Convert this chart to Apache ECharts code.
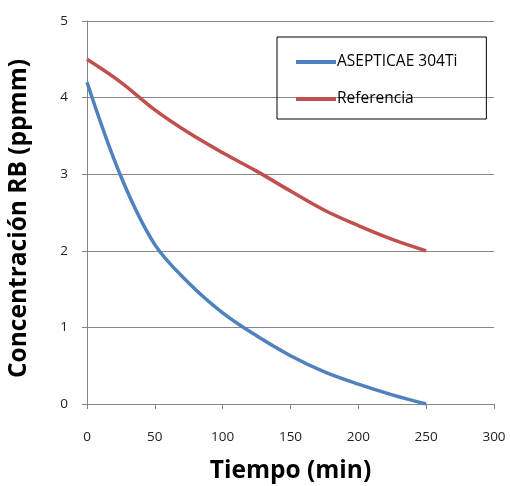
<!DOCTYPE html>
<html><head><meta charset="utf-8">
<script src="https://cdn.jsdelivr.net/npm/echarts@6/dist/echarts.min.js"></script>
<style>html,body{margin:0;padding:0;background:#fff}#c{width:510px;height:486px}</style>
</head><body><div id="c"></div>
<script>
const tiempo = [0, 25, 50, 75, 100, 125, 150, 175, 200, 225, 250];
const aseptica = [4.2, 2.97, 2.08, 1.58, 1.19, 0.89, 0.63, 0.42, 0.26, 0.12, 0];
const referencia = [4.5, 4.2, 3.84, 3.54, 3.28, 3.04, 2.78, 2.53, 2.33, 2.15, 2.0];
const seriesNames = ['ASEPTICAE 304Ti', 'Referencia'];
const xTitle = 'Tiempo (min)';
const yTitle = 'Concentración RB (ppmm)';

const pair = (xs, ys) => xs.map((x, i) => [x, ys[i]]);
const font = '"Open Sans", "DejaVu Sans", sans-serif';
const chart = echarts.init(document.getElementById('c'), null, {renderer: 'canvas'});
chart.setOption({
  animation: false,
  backgroundColor: '#fff',
  grid: {left: 87, right: 16, top: 21, bottom: 82, containLabel: false, outerBoundsMode: 'none'},
  legend: {
    orient: 'vertical', left: 277, top: 37,
    padding: [16, 29, 11, 19], itemGap: 19,
    borderColor: '#000', borderWidth: 1,
    itemWidth: 40, itemHeight: 4, icon: 'rect',
    textStyle: {fontFamily: font, fontSize: 15.5, lineHeight: 18, color: '#000', padding: [0, 0, 0, -4]},
    data: seriesNames
  },
  xAxis: {
    type: 'value', min: 0, max: 300, interval: 50,
    name: xTitle, nameLocation: 'middle', nameGap: 55,
    nameTextStyle: {fontFamily: font, fontSize: 24.5, fontWeight: 'bold', color: '#000'},
    axisLine: {show: true, lineStyle: {color: '#868686', width: 1}},
    axisTick: {show: true, length: 5, lineStyle: {color: '#868686'}},
    axisLabel: {fontFamily: font, fontSize: 13.5, color: '#222', margin: 26},
    splitLine: {show: false}
  },
  yAxis: {
    type: 'value', min: 0, max: 5, interval: 1,
    name: yTitle, nameLocation: 'middle', nameGap: 55, nameRotate: 90,
    nameTextStyle: {fontFamily: font, fontSize: 24.5, fontWeight: 'bold', color: '#000', padding: [0, 12, 0, 0]},
    axisLine: {show: true, lineStyle: {color: '#868686', width: 1}},
    axisTick: {show: true, length: 5, lineStyle: {color: '#868686'}},
    axisLabel: {fontFamily: font, fontSize: 13.5, color: '#222', margin: 19},
    splitLine: {show: true, lineStyle: {color: '#868686', width: 1}}
  },
  series: [
    {name: seriesNames[0], type: 'line', smooth: 0.35, showSymbol: false,
     data: pair(tiempo, aseptica), itemStyle: {color: '#4f81bd'},
     lineStyle: {color: '#4f81bd', width: 3.5}},
    {name: seriesNames[1], type: 'line', smooth: 0.35, showSymbol: false,
     data: pair(tiempo, referencia), itemStyle: {color: '#c0504d'},
     lineStyle: {color: '#c0504d', width: 3.5}}
  ]
});
</script></body></html>
